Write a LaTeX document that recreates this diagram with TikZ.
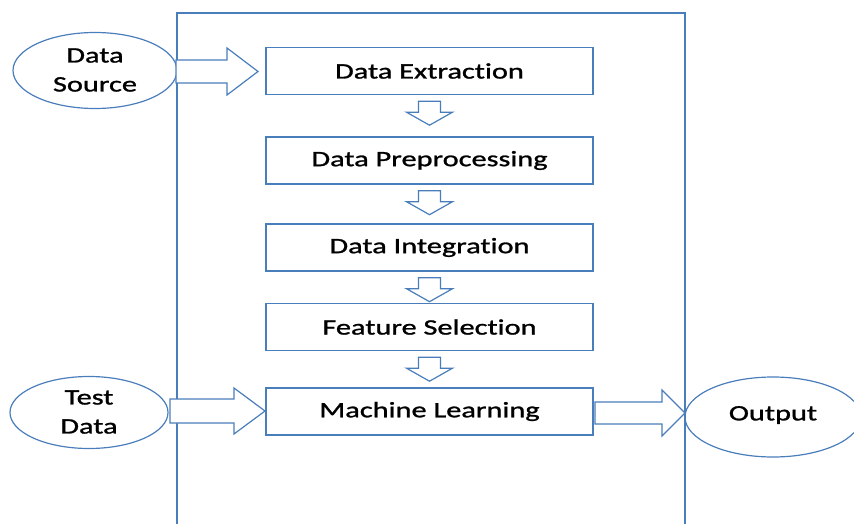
\documentclass[tikz,border=0pt]{standalone}
\usepackage{fontspec}
\setmainfont{Carlito}[FakeStretch=1.38, FakeBold=1.2, RawFeature=-liga]
\definecolor{lineblue}{RGB}{74,126,187}
\begin{document}
\begin{tikzpicture}[x=1pt,y=-1pt,
  every node/.style={font=\fontsize{22}{29}\selectfont, text=black},
  procbox/.style={draw=lineblue, line width=1.4pt, minimum width=327pt, minimum height=47pt, inner sep=0pt},
  blockarrow/.style={draw=lineblue, line width=1.2pt, fill=white, line join=miter}
]
\useasboundingbox (0,0) rectangle (854,524);
% container
\draw[lineblue, line width=1.6pt] (177,540) -- (177,13) -- (685,13) -- (685,540);
% process boxes
\node[procbox] (ext) at (429.5,71) {Data Extraction};
\node[procbox] (pre) at (429.5,160.5) {Data Preprocessing};
\node[procbox] (int) at (429.5,247.5) {Data Integration};
\node[procbox] (fs)  at (429.5,327) {Feature Selection};
\node[procbox] (ml)  at (429.5,411.5) {Machine Learning};
% ellipses
\draw[lineblue, line width=1.2pt] (95,70.5) ellipse (82pt and 38pt);
\node[align=center] (src) at (95,70) {Data\\Source};
\draw[lineblue, line width=1.2pt] (89,412.5) ellipse (79pt and 36pt);
\node[align=center] (tst) at (89,412) {Test\\Data};
\draw[lineblue, line width=1.2pt] (773,417) ellipse (88pt and 40pt);
\node (out) at (773,415) {Output};
% big arrows
\draw[blockarrow] (176,60) -- (227,60) -- (227,48) -- (258,71.5) -- (227,95) -- (227,83) -- (176,83) -- cycle;
\draw[blockarrow] (170,399) -- (234,399) -- (234,388) -- (265,411) -- (234,434) -- (234,423) -- (170,423) -- cycle;
\draw[blockarrow] (595,402) -- (662,402) -- (662,390) -- (685,413) -- (662,436) -- (662,424) -- (595,424) -- cycle;
% small down arrows
\foreach \a in {ext,pre,int,fs}{
  \draw[blockarrow] ([xshift=-11pt,yshift=-6pt]\a.south) -- ([xshift=11pt,yshift=-6pt]\a.south)
    -- ([xshift=11pt,yshift=-17pt]\a.south) -- ([xshift=23pt,yshift=-17pt]\a.south)
    -- ([yshift=-30pt]\a.south) -- ([xshift=-23pt,yshift=-17pt]\a.south)
    -- ([xshift=-11pt,yshift=-17pt]\a.south) -- cycle;
}
\end{tikzpicture}
\end{document}
